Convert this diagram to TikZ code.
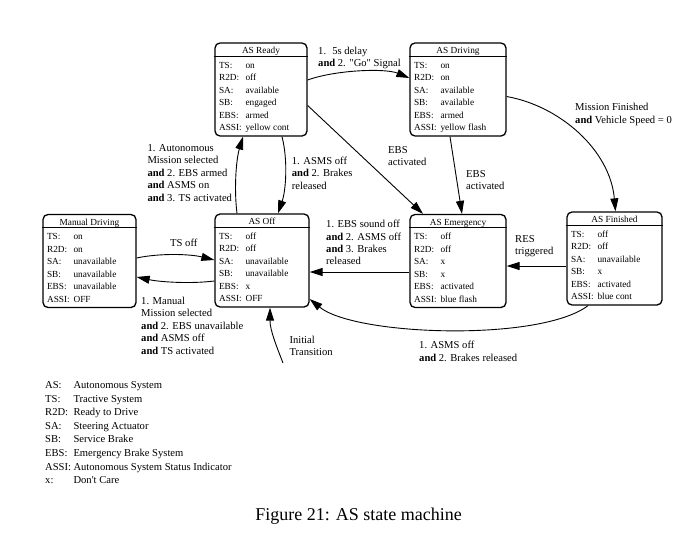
\documentclass[tikz,border=0pt]{standalone}
\usepackage{fontspec}
\setmainfont{Liberation Serif}[Ligatures=TeXOff]
\usetikzlibrary{arrows.meta}
\newcommand\statenode[6]{%
  \node[statebox, minimum width=#4pt] (#1) at (#2,#3) {};
  \draw[sepline] ([yshift=-14pt]#1.north west) -- ([yshift=-14pt]#1.north east);
  \node[celltext, anchor=base] (#1-title) at ([yshift=-11.2pt]#1.north) {#5};
  \foreach \k/\v [count=\i] in {#6} {
    \node[celltext, anchor=base west] (#1-k\i) at ([xshift=4.5pt, yshift={-(25.7+(\i-1)*12.5)*1pt}]#1.north west) {\k};
    \node[celltext, anchor=base west] (#1-v\i) at ([xshift=31pt, yshift={-(25.7+(\i-1)*12.5)*1pt}]#1.north west) {\v};
  }
}
\begin{document}
\begin{tikzpicture}[x=1pt,y=-1pt,
  statebox/.style={draw, line width=1.3pt, rounded corners=5pt, inner sep=0pt, minimum height=93pt},
  sepline/.style={line width=0.9pt},
  celltext/.style={font=\fontsize{9.3}{11}\selectfont, inner sep=0pt},
  lbl/.style={font=\fontsize{10.6}{12.4}\selectfont, inner sep=0pt, align=left, anchor=north west},
  legtext/.style={font=\fontsize{10.6}{12}\selectfont, inner sep=0pt, anchor=base west},
  edge/.style={line width=0.9pt, -{Triangle[length=13pt,width=8pt]}},
]
\fill[white] (0,0) rectangle (690,546);
\useasboundingbox (0,0) rectangle (690,546);

\statenode{ready}{261}{89.5}{92}{AS Ready}{TS:/on, R2D:/off, SA:/available, SB:/engaged, EBS:/armed, ASSI:/yellow cont}
\statenode{driving}{458}{89.5}{96}{AS Driving}{TS:/on, R2D:/on, SA:/available, SB:/available, EBS:/armed, ASSI:/yellow flash}
\statenode{manual}{89.5}{261}{93}{Manual Driving}{TS:/on, R2D:/on, SA:/unavailable, SB:/unavailable, EBS:/unavailable, ASSI:/OFF}
\statenode{off}{262}{260.5}{94}{AS Off}{TS:/off, R2D:/off, SA:/unavailable, SB:/unavailable, EBS:/x, ASSI:/OFF}
\statenode{emerg}{458}{261}{96}{AS Emergency}{TS:/off, R2D:/off, SA:/x, SB:/x, EBS:/activated, ASSI:/blue flash}
\statenode{finished}{614.5}{258.5}{95}{AS Finished}{TS:/off, R2D:/off, SA:/unavailable, SB:/x, EBS:/activated, ASSI:/blue cont}

% connectors
\draw[edge] ([yshift=9.5pt]ready.east) .. controls (335,70) and (385,68) .. ([yshift=11.5pt]driving.west);
\draw[edge] ([yshift=-16pt]ready.east) -- ([xshift=-35pt]emerg.north);
\draw[edge] ([xshift=-8pt]driving.south) -- ([xshift=4pt]emerg.north);
\draw[edge] ([yshift=-7pt]driving.east) .. controls (560,106) and (610,150) .. ([xshift=1pt]finished.north);
\draw[edge] ([yshift=-7.5pt]finished.west) -- ([yshift=-5pt]emerg.east);
\draw[edge] ([yshift=-11pt]emerg.west) -- ([yshift=-11.5pt]off.east);
\draw[edge] ([xshift=-26.5pt]finished.south) .. controls (540,342) and (355,336) .. ([yshift=-38.5pt]off.east);
\draw[edge] ([xshift=-25pt]off.north) .. controls (234,190) and (236,160) .. ([xshift=-18pt]ready.south);
\draw[edge] ([xshift=21pt]ready.south) .. controls (288,160) and (286,190) .. ([xshift=16pt]off.north);
\draw[edge] ([yshift=3pt]manual.east) .. controls (160,253) and (190,254) .. ([yshift=0.5pt]off.west);
\draw[edge] ([yshift=-20.5pt]off.west) .. controls (190,284) and (160,282) .. ([yshift=-16pt]manual.east);
\coordinate (init) at (283,363);
\draw[edge] (init) .. controls (276,345) and (270,330) .. ([xshift=8pt]off.south);

% labels
\node[lbl] (l1) at (318,46.7) {1.~ 5s delay\\\textbf{and} 2. "Go" Signal};
\node[lbl] (l2) at (388,146) {EBS\\activated};
\node[lbl] (l3) at (466,170) {EBS\\activated};
\node[lbl] (l4) at (575,103.3) {Mission Finished\\\textbf{and} Vehicle Speed = 0};
\node[lbl] (l5) at (515,235) {RES\\triggered};
\node[lbl] (l6) at (326,220) {1. EBS sound off\\\textbf{and} 2. ASMS off\\\textbf{and} 3. Brakes\\released};
\node[lbl] (l7) at (419,341) {1. ASMS off\\\textbf{and} 2. Brakes released};
\node[lbl] (l8) at (147.3,144.3) {1. Autonomous\\Mission selected\\\textbf{and} 2. EBS armed\\\textbf{and} ASMS on\\\textbf{and} 3. TS activated};
\node[lbl] (l9) at (291.7,156.7) {1. ASMS off\\\textbf{and} 2. Brakes\\released};
\node[lbl] (l10) at (170,239.3) {TS off};
\node[lbl] (l11) at (141,297) {1. Manual\\Mission selected\\\textbf{and} 2. EBS unavailable\\\textbf{and} ASMS off\\\textbf{and} TS activated};
\node[lbl] (l12) at (289.3,336) {Initial\\Transition};

% legend
\foreach \k/\v [count=\i] in {AS:/Autonomous System, TS:/Tractive System, R2D:/Ready to Drive, SA:/Steering Actuator, SB:/Service Brake, EBS:/Emergency Brake System, ASSI:/Autonomous System Status Indicator, x:/Don't Care} {
  \node[legtext] (leg-k\i) at (45, {388.4+(\i-1)*13.6}) {\k};
  \node[legtext] (leg-v\i) at (73.3, {388.4+(\i-1)*13.6}) {\v};
}

\node[font=\fontsize{18}{20}\selectfont, anchor=base, inner sep=0pt] (cap) at (358.5,520) {Figure 21: AS state machine};
\end{tikzpicture}
\end{document}
